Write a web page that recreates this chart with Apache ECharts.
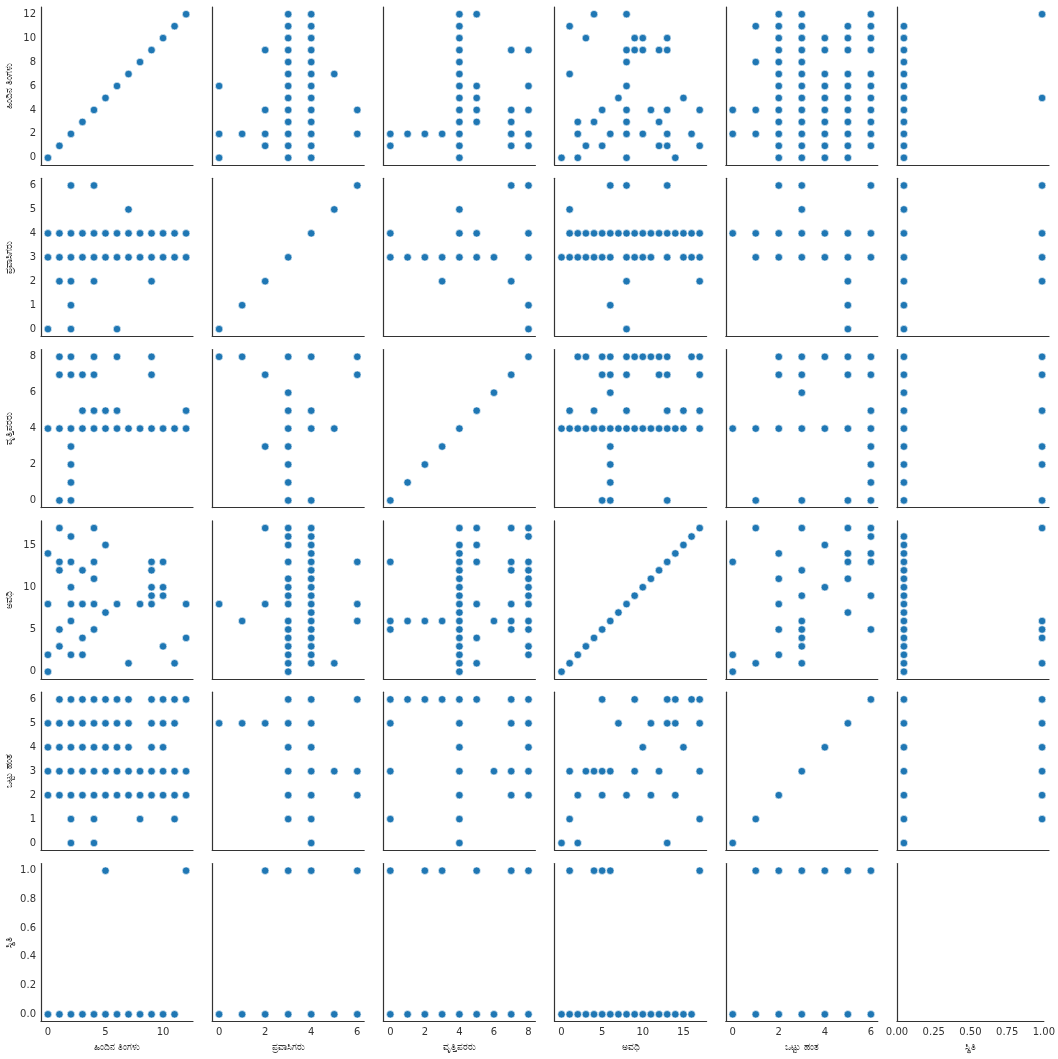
<!DOCTYPE html>
<html>
<head>
<meta charset="utf-8">
<script src="https://cdn.jsdelivr.net/npm/echarts@6/dist/echarts.min.js"></script>
<style>
html, body { margin: 0; padding: 0; background: #fff; }
#chart { width: 1058px; height: 1059px; }
</style>
</head>
<body>
<div id="chart"></div>
<script>
// variable names, in column order
var varNames = ['ಹಿಂದಿನ ತಿಂಗಳು', 'ಪ್ರವಾಸಿಗರು', 'ವೃತ್ತಿಪರರು', 'ಅವಧಿ', 'ಒಟ್ಟು ಹಂತ', 'ಸ್ಥಿತಿ'];
var varRanges = [[0, 12], [0, 6], [0, 8], [0, 17], [0, 6], [0, 1]];
var xTickValues = [[0, 5, 10], [0, 2, 4, 6], [0, 2, 4, 6, 8], [0, 5, 10, 15], [0, 2, 4, 6], [0, 0.25, 0.5, 0.75, 1]];
var yTickValues = [[0, 2, 4, 6, 8, 10, 12], [0, 1, 2, 3, 4, 5, 6], [0, 2, 4, 6, 8], [0, 5, 10, 15], [0, 1, 2, 3, 4, 5, 6], [0, 0.2, 0.4, 0.6, 0.8, 1]];

// diagonal: each variable against itself
var diag1 = [0, 1, 2, 3, 4, 5, 6, 7, 8, 9, 10, 11, 12];
var diag2 = [0, 1, 2, 3, 4, 5, 6];
var diag3 = [0, 1, 2, 3, 4, 5, 6, 7, 8];
var diag4 = [0, 1, 2, 3, 4, 5, 6, 7, 8, 9, 10, 11, 12, 13, 14, 15, 16, 17];
var diag5 = [0, 1, 2, 3, 4, 5, 6];

// pair lists: index = value of the first variable, entries = values of the second
var v2ToV1 = [[0, 2, 6], [2], [9, 4, 2, 1], [0, 1, 2, 3, 4, 5, 6, 7, 8, 9, 10, 11, 12], [0, 1, 2, 3, 4, 5, 6, 7, 8, 9, 10, 11, 12], [7], [4, 2]];
var v3ToV1 = [[2, 1], [2], [2], [2], [0, 1, 2, 3, 4, 5, 6, 7, 8, 9, 10, 11, 12], [12, 6, 5, 4, 3], [], [9, 4, 3, 2, 1], [9, 6, 4, 2, 1]];
var v4ToV1 = [[0], [11, 7], [3, 2, 0], [10, 1], [12, 3], [4, 1], [2], [5], [12, 9, 8, 6, 4, 3, 2, 0], [10, 9], [10, 9, 2], [4], [9, 3, 1], [10, 9, 4, 2, 1], [0], [5], [2], [4, 1]];
var v5ToV1 = [[4, 2], [11, 8, 4, 2], [0, 1, 2, 3, 4, 5, 6, 7, 8, 9, 10, 11, 12], [0, 1, 2, 3, 4, 5, 6, 7, 8, 9, 10, 11, 12], [10, 9, 7, 6, 5, 4, 3, 2, 1, 0], [11, 10, 9, 7, 6, 5, 4, 3, 2, 1, 0], [12, 11, 10, 9, 7, 6, 5, 4, 3, 2, 1]];
var v6ToV1 = [[0, 1, 2, 3, 4, 5, 6, 7, 8, 9, 10, 11], [12, 5]];
var v2ToV3 = [[8], [8], [7, 3], [0, 1, 2, 3, 4, 5, 6, 8], [0, 4, 5, 8], [4], [7, 8]];
var v2ToV4 = [[8], [6], [17, 8], [17, 16, 15, 13, 11, 10, 9, 8, 6, 5, 4, 3, 2, 1, 0], [17, 16, 15, 14, 13, 12, 11, 10, 9, 8, 7, 6, 5, 4, 3, 2, 1], [1], [13, 8, 6]];
var v2ToV5 = [[5], [5], [5], [1, 2, 3, 4, 5, 6], [0, 1, 2, 3, 4, 5, 6], [3], [6, 3, 2]];
var v6ToV2 = [[0, 1, 2, 3, 4, 5, 6], [6, 4, 3, 2]];
var v3ToV4 = [[13, 6, 5], [6], [6], [6], [17, 15, 14, 13, 12, 11, 10, 9, 8, 7, 6, 5, 4, 3, 2, 1, 0], [17, 15, 13, 8, 4, 1], [6], [17, 13, 12, 8, 6, 5], [17, 16, 13, 12, 11, 10, 9, 8, 6, 5, 3, 2]];
var v3ToV5 = [[6, 5, 3, 1], [6], [6], [6], [6, 5, 4, 3, 2, 1, 0], [6], [3], [6, 5, 3, 2], [6, 5, 4, 3, 2]];
var v6ToV3 = [[0, 1, 2, 3, 4, 5, 6, 7, 8], [8, 7, 5, 3, 2, 0]];
var v5ToV4 = [[0, 2, 13], [1, 17], [2, 5, 8, 11, 14], [1, 3, 4, 5, 6, 9, 12, 17], [10, 15], [7, 11, 13, 14, 17], [5, 9, 13, 14, 16, 17]];
var v6ToV4 = [[0, 1, 2, 3, 4, 5, 6, 7, 8, 9, 10, 11, 12, 13, 14, 15, 16], [17, 6, 5, 4, 1]];
var v6ToV5 = [[0, 1, 2, 3, 4, 5, 6], [1, 2, 3, 4, 5, 6]];

var diagLists = [diag1, diag2, diag3, diag4, diag5, []];
// a = index variable, b = listed variable (0-based)
var pairs = [
    { a: 1, b: 0, list: v2ToV1 }, { a: 2, b: 0, list: v3ToV1 }, { a: 3, b: 0, list: v4ToV1 },
    { a: 4, b: 0, list: v5ToV1 }, { a: 5, b: 0, list: v6ToV1 }, { a: 1, b: 2, list: v2ToV3 },
    { a: 1, b: 3, list: v2ToV4 }, { a: 1, b: 4, list: v2ToV5 }, { a: 5, b: 1, list: v6ToV2 },
    { a: 2, b: 3, list: v3ToV4 }, { a: 2, b: 4, list: v3ToV5 }, { a: 5, b: 2, list: v6ToV3 },
    { a: 4, b: 3, list: v5ToV4 }, { a: 5, b: 3, list: v6ToV4 }, { a: 5, b: 4, list: v6ToV5 }
];

//取得某一格的点
function panelPoints(r, c) {
    if (r === c) {
        return diagLists[r].map(function (v) { return [v, v]; });
    }
    var pts = [];
    pairs.forEach(function (p) {
        var flip;
        if (p.a === c && p.b === r) flip = false;
        else if (p.a === r && p.b === c) flip = true;
        else return;
        p.list.forEach(function (vals, i) {
            vals.forEach(function (v) {
                pts.push(flip ? [v, i] : [i, v]);
            });
        });
    });
    return pts;
}

function padded(k) {
    var lo = varRanges[k][0], hi = varRanges[k][1], m = (hi - lo) * 0.05;
    return [lo - m, hi + m];
}

var N = 6, cellW = 152, cellH = 158, stepX = 171.2, stepY = 171.3, left0 = 41, top0 = 7;
var textColor = '#333';
var font = 'DejaVu Sans, Noto Sans, sans-serif';
var grids = [], xAxes = [], yAxes = [], series = [];

for (var r = 0; r < N; r++) {
    for (var c = 0; c < N; c++) {
        var idx = grids.length;
        grids.push({ left: left0 + stepX * c, top: top0 + stepY * r, width: cellW, height: cellH });
        var empty = (r === N - 1 && c === N - 1);
        var xr = empty ? [0, 1] : padded(c);
        var yr = empty ? [0, 1] : padded(r);
        var bottomRow = (r === N - 1), leftCol = (c === 0);
        xAxes.push({
            type: 'value', gridIndex: idx, min: xr[0], max: xr[1],
            splitLine: { show: false },
            axisTick: { show: false, customValues: xTickValues[c] },
            axisLine: { show: true, onZero: false, lineStyle: { color: textColor, width: 1.2 } },
            axisLabel: {
                show: bottomRow, customValues: xTickValues[c], margin: 6,
                color: textColor, fontSize: 10, fontFamily: font,
                formatter: c === 5 ? function (v) { return v.toFixed(2); } : null
            },
            name: bottomRow ? varNames[c] : '', nameLocation: 'middle', nameGap: 22,
            nameTextStyle: { color: textColor, fontSize: 9, fontFamily: font }
        });
        yAxes.push({
            type: 'value', gridIndex: idx, min: yr[0], max: yr[1],
            splitLine: { show: false },
            axisTick: { show: false, customValues: yTickValues[r] },
            axisLine: { show: true, onZero: false, lineStyle: { color: textColor, width: 1.2 } },
            axisLabel: {
                show: leftCol, customValues: yTickValues[r], margin: 5,
                color: textColor, fontSize: 10, fontFamily: font,
                formatter: r === 5 ? function (v) { return v.toFixed(1); } : null
            },
            name: leftCol ? varNames[r] : '', nameLocation: 'middle', nameGap: 27, nameRotate: 90,
            nameTextStyle: { color: textColor, fontSize: 9, fontFamily: font }
        });
        series.push({
            type: 'scatter', xAxisIndex: idx, yAxisIndex: idx,
            data: panelPoints(r, c),
            symbol: 'circle', symbolSize: 7.5,
            itemStyle: { color: '#1f77b4', borderColor: '#ffffff', borderWidth: 0.6, opacity: 1 },
            silent: true
        });
    }
}

var myChart = echarts.init(document.getElementById('chart'));
myChart.setOption({
    animation: false,
    backgroundColor: '#ffffff',
    grid: grids,
    xAxis: xAxes,
    yAxis: yAxes,
    series: series
});
</script>
</body>
</html>
